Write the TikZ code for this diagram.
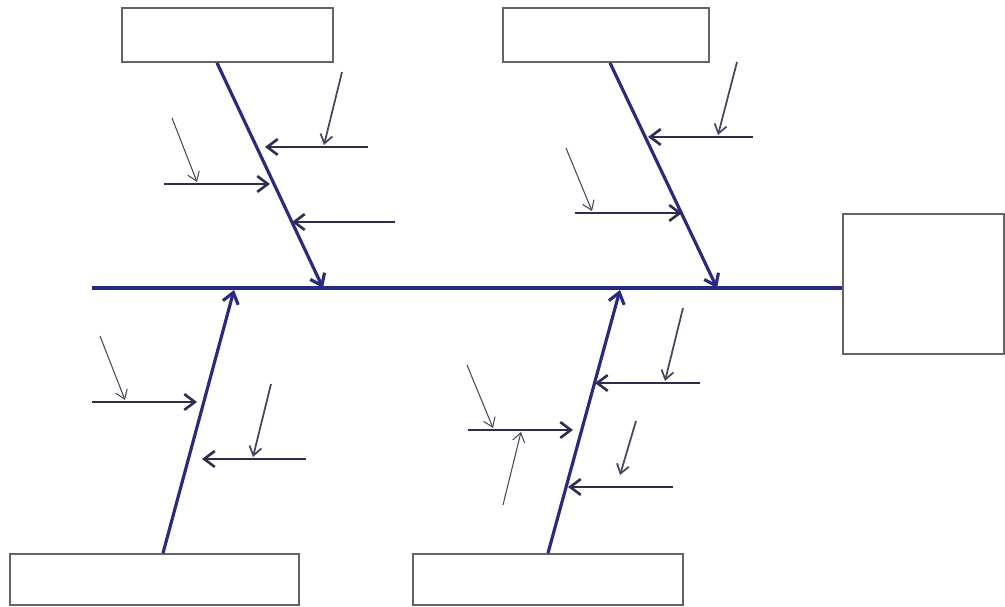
\documentclass[tikz,border=0pt]{standalone}
\usetikzlibrary{arrows.meta}
\definecolor{bone}{RGB}{40,40,135}
\definecolor{twig}{RGB}{45,45,80}
\definecolor{hair}{RGB}{70,70,95}
\definecolor{frame}{RGB}{100,100,100}

\begin{document}
\begin{tikzpicture}[x=0.02cm,y=-0.02cm,
    >={Straight Barb[length=6pt,width=9pt]},
    cause/.style={line width=1pt, shape=rectangle, draw=frame, fill=white, inner sep=0pt},
    spine/.style={bone, line width=2.2pt},
    ribbone/.style={bone, line width=1.8pt, ->},
    twigline/.style={twig, line width=1.5pt, ->},
    hairline/.style={hair, line width=1pt, ->, >={Straight Barb[length=5pt,width=7pt]}},
    thinline/.style={hair, line width=0.6pt, ->, >={Straight Barb[length=5pt,width=7pt]}}]
    \useasboundingbox (0,0) rectangle (1005,607);

    % boxes
    \node[cause, minimum width=4.22cm, minimum height=1.08cm] (topleft) at (227.5,35) {};
    \node[cause, minimum width=4.12cm, minimum height=1.08cm] (topright) at (606,35) {};
    \node[cause, minimum width=5.78cm, minimum height=1.02cm] (botleft) at (154.5,579.5) {};
    \node[cause, minimum width=5.40cm, minimum height=1.02cm] (botright) at (548,579.5) {};
    \node[cause, minimum width=3.22cm, minimum height=2.80cm] (effect) at (923.5,284) {};

    % spine
    \coordinate (tail) at (92,288);
    \draw[spine] (tail) -- (tail -| effect.west);

    % main bones
    \coordinate (h1) at (323,288);
    \coordinate (h2) at (717,288);
    \coordinate (h3) at (234,290);
    \coordinate (h4) at (620,290);
    \draw[ribbone] ([xshift=-0.21cm]topleft.south) -- (h1);
    \draw[ribbone] ([xshift=0.08cm]topright.south) -- (h2);
    \draw[ribbone] ([xshift=0.17cm]botleft.north) -- (h3);
    \draw[ribbone] (botright.north) -- (h4);

    % top left bone
    \coordinate (a1) at (368,147); \coordinate (a1t) at (265,147);
    \coordinate (a2) at (164,184); \coordinate (a2t) at (270,184);
    \coordinate (a3) at (395,222); \coordinate (a3t) at (292,222);
    \draw[twigline] (a1) -- (a1t);
    \draw[twigline] (a2) -- (a2t);
    \draw[twigline] (a3) -- (a3t);
    \coordinate (s1) at (342,72);  \coordinate (s1t) at (324,145);
    \coordinate (s2) at (172,118); \coordinate (s2t) at (197,182);
    \draw[hairline] (s1) -- (s1t);
    \draw[thinline] (s2) -- (s2t);

    % top right bone
    \coordinate (b1) at (753,137); \coordinate (b1t) at (648,137);
    \coordinate (b2) at (575,213); \coordinate (b2t) at (682,213);
    \draw[twigline] (b1) -- (b1t);
    \draw[twigline] (b2) -- (b2t);
    \coordinate (s3) at (737,62);  \coordinate (s3t) at (718,135);
    \coordinate (s4) at (566,148); \coordinate (s4t) at (592,211);
    \draw[hairline] (s3) -- (s3t);
    \draw[thinline] (s4) -- (s4t);

    % bottom left bone
    \coordinate (c1) at (92,402);  \coordinate (c1t) at (197,402);
    \coordinate (c2) at (306,459); \coordinate (c2t) at (202,459);
    \draw[twigline] (c1) -- (c1t);
    \draw[twigline] (c2) -- (c2t);
    \coordinate (s5) at (100,336); \coordinate (s5t) at (125,400);
    \coordinate (s6) at (271,384); \coordinate (s6t) at (253,457);
    \draw[thinline] (s5) -- (s5t);
    \draw[hairline] (s6) -- (s6t);

    % bottom right bone
    \coordinate (d1) at (700,383); \coordinate (d1t) at (595,383);
    \coordinate (d2) at (468,430); \coordinate (d2t) at (573,430);
    \coordinate (d3) at (673,487); \coordinate (d3t) at (568,487);
    \draw[twigline] (d1) -- (d1t);
    \draw[twigline] (d2) -- (d2t);
    \draw[twigline] (d3) -- (d3t);
    \coordinate (s7) at (683,308); \coordinate (s7t) at (665,381);
    \coordinate (s8) at (467,365); \coordinate (s8t) at (493,428);
    \coordinate (s9) at (503,505); \coordinate (s9t) at (521,432);
    \coordinate (s10) at (636,421); \coordinate (s10t) at (620,475);
    \draw[hairline] (s7) -- (s7t);
    \draw[thinline] (s8) -- (s8t);
    \draw[thinline] (s9) -- (s9t);
    \draw[hairline] (s10) -- (s10t);
\end{tikzpicture}
\end{document}
